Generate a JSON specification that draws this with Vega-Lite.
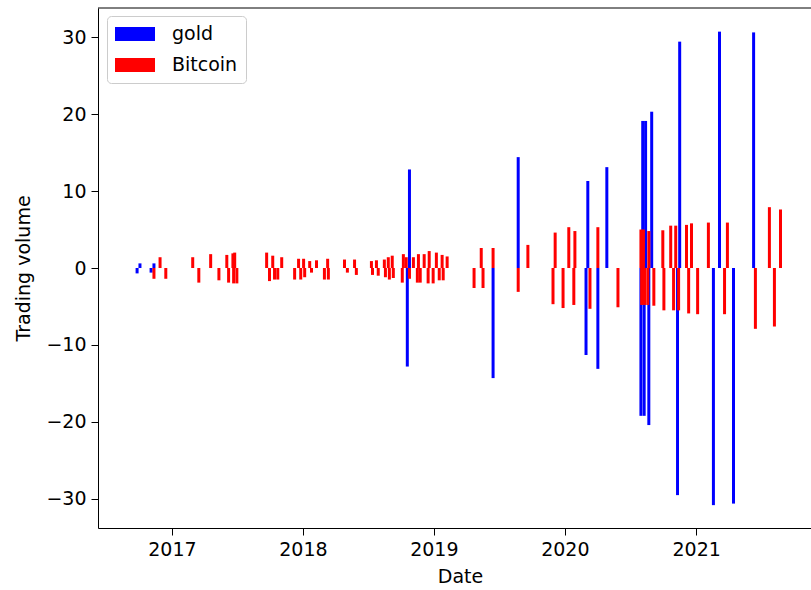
{
  "$schema": "https://vega.github.io/schema/vega-lite/v6.json",
  "width": 713,
  "height": 520,
  "autosize": {"type": "none"},
  "padding": {"left": 98, "top": 8, "right": 0, "bottom": 62},
  "config": {
    "font": "DejaVu Sans",
    "view": {"stroke": null},
    "axis": {"grid": false, "domainColor": "black", "domainWidth": 1, "tickColor": "black", "tickSize": 7, "labelFontSize": 19, "titleFontSize": 19, "titleFontWeight": "normal", "labelColor": "black", "titleColor": "black", "labelPadding": 5, "labelFont": "DejaVu Sans", "titleFont": "DejaVu Sans"}
  },
  "layer": [
    {
      "data": {"values": [
        {"date": "2016-09-26", "series": "gold", "volume": -0.7},
        {"date": "2016-10-04", "series": "gold", "volume": 0.6},
        {"date": "2016-11-04", "series": "gold", "volume": -0.6},
        {"date": "2016-11-12", "series": "gold", "volume": 0.6},
        {"date": "2018-10-19", "series": "gold", "volume": -12.8},
        {"date": "2018-10-25", "series": "gold", "volume": 12.8},
        {"date": "2019-06-15", "series": "gold", "volume": -14.3},
        {"date": "2019-08-24", "series": "gold", "volume": 14.4},
        {"date": "2020-02-29", "series": "gold", "volume": -11.3},
        {"date": "2020-03-05", "series": "gold", "volume": 11.3},
        {"date": "2020-04-02", "series": "gold", "volume": -13.1},
        {"date": "2020-04-27", "series": "gold", "volume": 13.1},
        {"date": "2020-07-31", "series": "gold", "volume": -19.2},
        {"date": "2020-08-05", "series": "gold", "volume": 19.1},
        {"date": "2020-08-09", "series": "gold", "volume": -19.2},
        {"date": "2020-08-13", "series": "gold", "volume": 19.1},
        {"date": "2020-08-22", "series": "gold", "volume": -20.4},
        {"date": "2020-08-30", "series": "gold", "volume": 20.3},
        {"date": "2020-11-10", "series": "gold", "volume": -29.5},
        {"date": "2020-11-16", "series": "gold", "volume": 29.4},
        {"date": "2021-02-18", "series": "gold", "volume": -30.8},
        {"date": "2021-03-07", "series": "gold", "volume": 30.7},
        {"date": "2021-04-15", "series": "gold", "volume": -30.6},
        {"date": "2021-06-10", "series": "gold", "volume": 30.6},
        {"date": "2016-11-12", "series": "Bitcoin", "volume": -1.4},
        {"date": "2016-11-29", "series": "Bitcoin", "volume": 1.4},
        {"date": "2016-12-15", "series": "Bitcoin", "volume": -1.4},
        {"date": "2017-02-28", "series": "Bitcoin", "volume": 1.4},
        {"date": "2017-03-17", "series": "Bitcoin", "volume": -1.9},
        {"date": "2017-04-19", "series": "Bitcoin", "volume": 1.8},
        {"date": "2017-05-12", "series": "Bitcoin", "volume": -1.6},
        {"date": "2017-06-03", "series": "Bitcoin", "volume": 1.7},
        {"date": "2017-06-08", "series": "Bitcoin", "volume": -1.9},
        {"date": "2017-06-20", "series": "Bitcoin", "volume": 1.9},
        {"date": "2017-06-22", "series": "Bitcoin", "volume": -2.0},
        {"date": "2017-06-25", "series": "Bitcoin", "volume": 2.0},
        {"date": "2017-07-01", "series": "Bitcoin", "volume": -2.0},
        {"date": "2017-09-22", "series": "Bitcoin", "volume": 2.0},
        {"date": "2017-09-30", "series": "Bitcoin", "volume": -1.7},
        {"date": "2017-10-09", "series": "Bitcoin", "volume": 1.6},
        {"date": "2017-10-14", "series": "Bitcoin", "volume": -1.5},
        {"date": "2017-10-23", "series": "Bitcoin", "volume": -1.5},
        {"date": "2017-11-03", "series": "Bitcoin", "volume": 1.4},
        {"date": "2017-12-09", "series": "Bitcoin", "volume": -1.5},
        {"date": "2017-12-20", "series": "Bitcoin", "volume": 1.2},
        {"date": "2017-12-26", "series": "Bitcoin", "volume": -1.5},
        {"date": "2018-01-03", "series": "Bitcoin", "volume": 1.2},
        {"date": "2018-01-06", "series": "Bitcoin", "volume": -1.2},
        {"date": "2018-01-20", "series": "Bitcoin", "volume": 0.9},
        {"date": "2018-01-25", "series": "Bitcoin", "volume": -0.6},
        {"date": "2018-02-08", "series": "Bitcoin", "volume": 1.0},
        {"date": "2018-03-02", "series": "Bitcoin", "volume": -1.5},
        {"date": "2018-03-11", "series": "Bitcoin", "volume": 1.2},
        {"date": "2018-03-13", "series": "Bitcoin", "volume": -1.5},
        {"date": "2018-04-27", "series": "Bitcoin", "volume": 1.1},
        {"date": "2018-05-05", "series": "Bitcoin", "volume": -0.6},
        {"date": "2018-05-25", "series": "Bitcoin", "volume": 1.1},
        {"date": "2018-05-30", "series": "Bitcoin", "volume": -0.9},
        {"date": "2018-07-11", "series": "Bitcoin", "volume": 0.9},
        {"date": "2018-07-14", "series": "Bitcoin", "volume": -0.9},
        {"date": "2018-07-25", "series": "Bitcoin", "volume": 1.0},
        {"date": "2018-07-30", "series": "Bitcoin", "volume": -1.0},
        {"date": "2018-08-16", "series": "Bitcoin", "volume": 1.1},
        {"date": "2018-08-19", "series": "Bitcoin", "volume": -1.2},
        {"date": "2018-08-27", "series": "Bitcoin", "volume": 1.4},
        {"date": "2018-08-30", "series": "Bitcoin", "volume": -1.5},
        {"date": "2018-09-07", "series": "Bitcoin", "volume": 1.6},
        {"date": "2018-09-10", "series": "Bitcoin", "volume": -1.3},
        {"date": "2018-10-05", "series": "Bitcoin", "volume": -1.9},
        {"date": "2018-10-08", "series": "Bitcoin", "volume": 1.8},
        {"date": "2018-10-16", "series": "Bitcoin", "volume": 1.4},
        {"date": "2018-10-25", "series": "Bitcoin", "volume": -1.4},
        {"date": "2018-11-05", "series": "Bitcoin", "volume": 1.4},
        {"date": "2018-11-16", "series": "Bitcoin", "volume": -1.9},
        {"date": "2018-11-19", "series": "Bitcoin", "volume": 1.8},
        {"date": "2018-11-24", "series": "Bitcoin", "volume": -1.9},
        {"date": "2018-12-05", "series": "Bitcoin", "volume": 1.8},
        {"date": "2018-12-16", "series": "Bitcoin", "volume": -2.0},
        {"date": "2018-12-19", "series": "Bitcoin", "volume": 2.2},
        {"date": "2018-12-30", "series": "Bitcoin", "volume": -2.0},
        {"date": "2019-01-08", "series": "Bitcoin", "volume": 2.0},
        {"date": "2019-01-16", "series": "Bitcoin", "volume": -1.6},
        {"date": "2019-01-24", "series": "Bitcoin", "volume": 1.7},
        {"date": "2019-01-27", "series": "Bitcoin", "volume": -1.6},
        {"date": "2019-02-07", "series": "Bitcoin", "volume": 1.5},
        {"date": "2019-04-23", "series": "Bitcoin", "volume": -2.6},
        {"date": "2019-05-13", "series": "Bitcoin", "volume": 2.6},
        {"date": "2019-05-18", "series": "Bitcoin", "volume": -2.6},
        {"date": "2019-06-15", "series": "Bitcoin", "volume": 2.6},
        {"date": "2019-08-24", "series": "Bitcoin", "volume": -3.1},
        {"date": "2019-09-20", "series": "Bitcoin", "volume": 3.0},
        {"date": "2019-11-29", "series": "Bitcoin", "volume": -4.7},
        {"date": "2019-12-05", "series": "Bitcoin", "volume": 4.6},
        {"date": "2019-12-27", "series": "Bitcoin", "volume": -5.2},
        {"date": "2020-01-12", "series": "Bitcoin", "volume": 5.3},
        {"date": "2020-01-26", "series": "Bitcoin", "volume": -4.8},
        {"date": "2020-01-29", "series": "Bitcoin", "volume": 4.8},
        {"date": "2020-03-11", "series": "Bitcoin", "volume": -5.3},
        {"date": "2020-04-02", "series": "Bitcoin", "volume": 5.3},
        {"date": "2020-05-28", "series": "Bitcoin", "volume": -5.1},
        {"date": "2020-07-31", "series": "Bitcoin", "volume": 5.0},
        {"date": "2020-08-02", "series": "Bitcoin", "volume": -4.8},
        {"date": "2020-08-07", "series": "Bitcoin", "volume": 5.0},
        {"date": "2020-08-10", "series": "Bitcoin", "volume": -4.8},
        {"date": "2020-08-19", "series": "Bitcoin", "volume": -4.8},
        {"date": "2020-08-22", "series": "Bitcoin", "volume": 4.8},
        {"date": "2020-09-05", "series": "Bitcoin", "volume": -4.9},
        {"date": "2020-09-30", "series": "Bitcoin", "volume": 4.9},
        {"date": "2020-10-03", "series": "Bitcoin", "volume": -5.5},
        {"date": "2020-10-22", "series": "Bitcoin", "volume": 5.5},
        {"date": "2020-10-30", "series": "Bitcoin", "volume": -5.5},
        {"date": "2020-11-05", "series": "Bitcoin", "volume": 5.5},
        {"date": "2020-11-13", "series": "Bitcoin", "volume": -5.5},
        {"date": "2020-12-05", "series": "Bitcoin", "volume": 5.6},
        {"date": "2020-12-11", "series": "Bitcoin", "volume": -5.9},
        {"date": "2020-12-19", "series": "Bitcoin", "volume": 5.8},
        {"date": "2021-01-05", "series": "Bitcoin", "volume": -6.0},
        {"date": "2021-02-04", "series": "Bitcoin", "volume": 5.9},
        {"date": "2021-03-21", "series": "Bitcoin", "volume": -6.0},
        {"date": "2021-03-29", "series": "Bitcoin", "volume": 5.9},
        {"date": "2021-06-15", "series": "Bitcoin", "volume": -7.9},
        {"date": "2021-07-24", "series": "Bitcoin", "volume": 7.9},
        {"date": "2021-08-07", "series": "Bitcoin", "volume": -7.6},
        {"date": "2021-08-24", "series": "Bitcoin", "volume": 7.6}
      ]},
      "mark": {"type": "bar", "width": 3},
      "encoding": {
        "x": {
          "field": "date", "type": "temporal",
          "scale": {"type": "utc", "domain": [{"year": 2016, "month": 6, "date": 23, "utc": true}, {"year": 2021, "month": 11, "date": 3, "utc": true}]},
          "axis": {"title": "Date", "format": "%Y", "labelFlush": false, "titlePadding": 8, "titleX": 362,
            "values": [{"year": 2017, "month": 1, "date": 1, "utc": true}, {"year": 2018, "month": 1, "date": 1, "utc": true}, {"year": 2019, "month": 1, "date": 1, "utc": true}, {"year": 2020, "month": 1, "date": 1, "utc": true}, {"year": 2021, "month": 1, "date": 1, "utc": true}]}
        },
        "y": {
          "field": "volume", "type": "quantitative", "stack": null,
          "scale": {"domain": [-33.77, 33.77], "nice": false},
          "axis": {"title": "Trading volume", "values": [-30, -20, -10, 0, 10, 20, 30], "labelExpr": "replace(datum.label, '-', '−')", "titlePadding": 12}
        },
        "color": {
          "field": "series", "type": "nominal",
          "scale": {"domain": ["gold", "Bitcoin"], "range": ["#0000ff", "#ff0000"]},
          "legend": {"orient": "none", "legendX": 9, "legendY": 8, "direction": "vertical", "title": null,
            "symbolType": "M-2,-0.7H2V0.7H-2Z", "symbolSize": 400, "symbolStrokeWidth": 0, "symbolOffset": 10,
            "labelOffset": 27, "labelFontSize": 19, "labelColor": "black", "rowPadding": 11, "padding": 8,
            "strokeColor": "#cccccc", "fillColor": "white", "cornerRadius": 4}
        }
      }
    },
    {
      "data": {"values": [{}]},
      "mark": {"type": "rule", "color": "black", "strokeWidth": 1},
      "encoding": {"y": {"datum": 33.77}}
    }
  ]
}
